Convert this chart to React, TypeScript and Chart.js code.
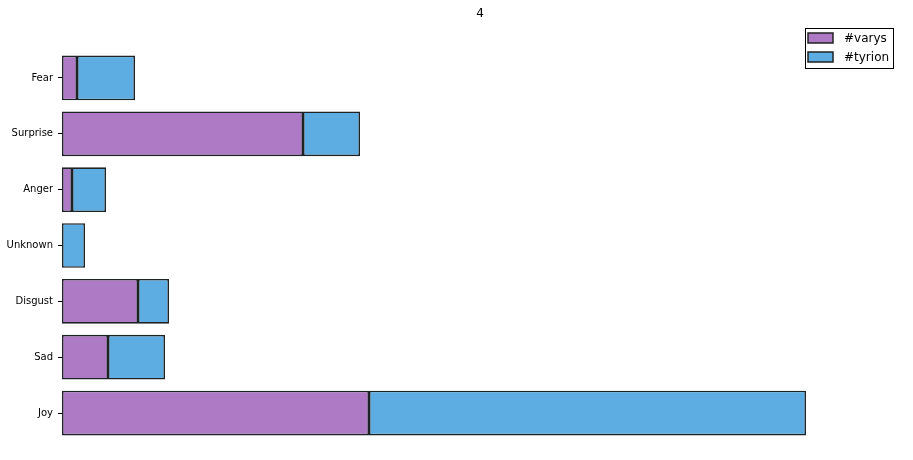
import React, { useEffect, useRef } from "react";
import { Chart, registerables } from "chart.js";

Chart.register(...registerables);

const TITLE = "4";
const categories = ["Fear", "Surprise", "Anger", "Unknown", "Disgust", "Sad", "Joy"];
const varys = [3, 48.2, 2, 0, 15.2, 9.2, 61.4];
const tyrion = [11.6, 11.4, 6.8, 4.6, 6.2, 11.4, 87.4];
const seriesNames = ["#varys", "#tyrion"];
const colors = ["#af7ac5", "#5dade2"];
const X_MAX = 167.2;

const FONT = "'DejaVu Sans', sans-serif";

const overlayPlugin = {
  id: "overlay",
  afterDraw(chart: any) {
    const ctx = chart.ctx;
    const area = chart.chartArea;
    ctx.save();
    // title
    ctx.fillStyle = "#000";
    ctx.font = `12px ${FONT}`;
    ctx.textAlign = "center";
    ctx.textBaseline = "middle";
    ctx.fillText(TITLE, (area.left + area.right) / 2, 14);
    // legend
    const bx = 805, by = 28, bw = 88, bh = 40;
    ctx.fillStyle = "#fff";
    ctx.fillRect(bx, by, bw, bh);
    ctx.strokeStyle = "#000";
    ctx.lineWidth = 1;
    ctx.strokeRect(bx + 0.5, by + 0.5, bw, bh);
    chart.data.datasets.forEach((ds: any, i: number) => {
      const y = 38 + i * 19;
      ctx.fillStyle = ds.backgroundColor;
      ctx.fillRect(808, y - 5, 25, 10);
      ctx.strokeStyle = "#222";
      ctx.lineWidth = 1.5;
      ctx.strokeRect(808, y - 5, 25, 10);
      ctx.fillStyle = "#000";
      ctx.font = `12px ${FONT}`;
      ctx.textAlign = "left";
      ctx.textBaseline = "middle";
      ctx.fillText(ds.label, 844, y + 1);
    });
    ctx.restore();
  },
};

export default function App() {
  const ref = useRef<HTMLCanvasElement | null>(null);
  useEffect(() => {
    document.body.style.margin = "0";
    const chart = new Chart(ref.current as HTMLCanvasElement, {
      type: "bar",
      data: {
        labels: categories,
        datasets: [
          {
            label: seriesNames[0],
            data: varys,
            backgroundColor: colors[0],
            borderColor: "#1e2326",
            borderWidth: 1.6,
            borderSkipped: false,
          },
          {
            label: seriesNames[1],
            data: tyrion,
            backgroundColor: colors[1],
            borderColor: "#1e2326",
            borderWidth: 1.6,
            borderSkipped: false,
          },
        ],
      },
      options: {
        indexAxis: "y",
        animation: false,
        responsive: false,
        maintainAspectRatio: false,
        datasets: { bar: { categoryPercentage: 1, barPercentage: 0.8 } },
        layout: { padding: { top: 50, bottom: 19, right: 15, left: 0 } },
        plugins: {
          legend: { display: false },
          title: { display: false },
          tooltip: { enabled: false },
        },
        scales: {
          x: {
            stacked: true,
            display: false,
            min: 0,
            max: X_MAX,
          },
          y: {
            stacked: true,
            afterFit: (scale: any) => {
              scale.width = 62;
            },
            border: { display: false },
            grid: {
              offset: false,
              drawOnChartArea: false,
              drawTicks: true,
              tickLength: 4,
              color: "#000",
            },
            ticks: {
              color: "#000",
              padding: 5,
              font: { family: FONT, size: 10 },
            },
          },
        },
      },
      plugins: [overlayPlugin],
    });
    return () => chart.destroy();
  }, []);
  return (
    <div style={{ width: 913, height: 460 }}>
      <canvas ref={ref} width={913} height={460} style={{ display: "block" }} />
    </div>
  );
}
